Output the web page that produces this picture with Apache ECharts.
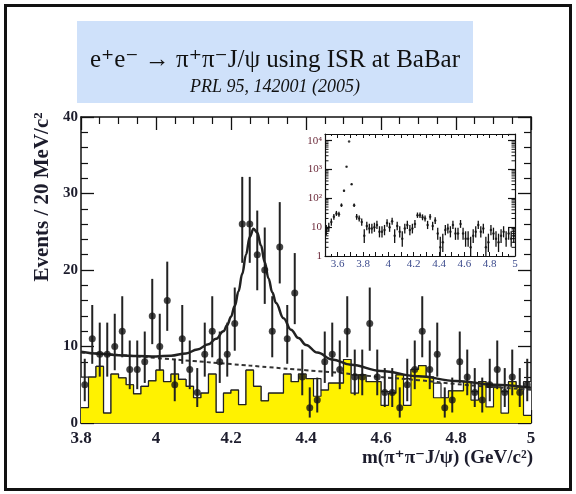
<!DOCTYPE html>
<html>
<head>
<meta charset="utf-8">
<script src="https://cdn.jsdelivr.net/npm/echarts@6/dist/echarts.min.js"></script>
<style>
  html, body { margin: 0; padding: 0; background: #ffffff; }
  #chart { width: 576px; height: 494px; }
</style>
</head>
<body>
<div id="chart"></div>
<script>
// Binning of the pi+pi-J/psi mass spectrum (GeV/c^2)
const BIN_START = 3.80;
const BIN_WIDTH = 0.02;

// Events per 20 MeV/c^2, 3.80 - 5.00 GeV/c^2
const counts = [
  5, 11, 9, 9, 10, 12, 7, 7, 8, 14,
  10, 16, 5, 11, 7, 4, 9, 12, 8, 9,
  13, 26, 26, 22, 20, 12, 23, 11, 17, 6,
  2, 3, 8, 9, 7, 12, 6, 6, 13, 6,
  4, 4, 2, 5, 7, 12, 7, 9, 2, 3,
  8, 6, 4, 3, 5, 7, 4, 6, 4, 5
];

// J/psi sideband histogram (shaded)
const sidebandHist = [
  2.0, 6.0, 7.4, 1.3, 6.4, 5.9, 5.0, 3.8, 4.8, 5.5,
  6.9, 5.4, 6.4, 5.7, 4.8, 3.3, 3.9, 6.4, 1.4, 3.9,
  4.3, 2.4, 6.9, 4.8, 2.9, 3.9, 3.9, 6.4, 5.4, 6.4,
  5.8, 3.5, 4.3, 5.2, 5.2, 8.3, 3.9, 6.3, 5.4, 5.4,
  2.3, 3.9, 6.3, 2.3, 7.0, 7.5, 6.0, 3.3, 3.3, 4.2,
  4.2, 5.4, 3.0, 5.4, 2.1, 4.7, 1.3, 5.4, 4.7, 1.0
];

// Open histogram drawn behind the shaded one
const openHist = [
  6.0, 6.0, 7.4, 1.3, 6.4, 5.9, 5.0, 3.8, 4.8, 5.5,
  6.9, 5.4, 6.4, 5.7, 4.8, 3.3, 3.9, 6.4, 1.4, 3.9,
  4.3, 2.4, 6.9, 4.8, 2.9, 3.9, 3.9, 6.4, 5.4, 6.4,
  5.8, 5.8, 4.3, 5.2, 5.2, 8.3, 6.3, 6.3, 5.4, 5.4,
  4.1, 3.9, 6.3, 5.8, 7.0, 7.5, 6.0, 5.2, 3.3, 4.2,
  4.2, 5.4, 4.1, 5.4, 4.7, 4.7, 4.1, 5.4, 4.7, 5.4
];

// Fit: signal + background (mass, events)
const fitMass = [3.80, 3.85, 3.90, 3.95, 4.00, 4.04, 4.08, 4.11, 4.14, 4.16,
  4.18, 4.19, 4.20, 4.21, 4.22, 4.23, 4.24, 4.25, 4.26, 4.27,
  4.28, 4.29, 4.30, 4.31, 4.32, 4.34, 4.36, 4.38, 4.40, 4.43,
  4.47, 4.52, 4.60, 4.70, 4.80, 4.90, 5.00];
const fitTotal = [9.3, 9.05, 8.85, 8.75, 8.7, 8.8, 9.1, 9.6, 10.3, 11.0,
  12.0, 12.8, 13.9, 15.3, 17.2, 19.5, 22.0, 24.3, 25.4, 24.9,
  23.2, 21.0, 18.9, 17.1, 15.7, 13.7, 12.2, 11.1, 10.2, 9.2,
  8.3, 7.6, 6.8, 6.1, 5.5, 5.0, 4.6];

// Background component of the fit
const bkgMass = [3.80, 3.90, 4.00, 4.10, 4.20, 4.30, 4.40, 4.50, 4.60, 4.70, 4.80, 4.90, 5.00];
const bkgValue = [9.2, 8.9, 8.5, 8.1, 7.7, 7.3, 6.9, 6.5, 6.0, 5.6, 5.1, 4.7, 4.35];

// Inset: wide-range spectrum, extra bins 3.50 - 3.80 GeV/c^2 (psi(2S) region)
const INSET_START = 3.50;
const insetLowCounts = [8, 10, 15, 23, 30, 28, 58, 182, 1250, 9300, 310, 58, 23, 20, 15];

// Tick labels
const insetYLabels = { 1: '1', 10: '10', 100: '10²', 1000: '10³', 10000: '10⁴' };

// ---- derived drawing data ----
function poissonLo(n) { return n * Math.pow(1 - 1 / (9 * n) - 1 / (3 * Math.sqrt(n)), 3); }
function poissonHi(n) { return n + Math.sqrt(n + 0.75) + 1; }
function stepData(vals, start) {
  const pts = [];
  vals.forEach((v, i) => {
    const lo = start + i * BIN_WIDTH;
    pts.push([lo, v], [lo + BIN_WIDTH, v]);
  });
  return pts;
}
const mainPoints = counts.map((n, i) => [BIN_START + (i + 0.5) * BIN_WIDTH, n]);
const mainErr = counts.map((n, i) => [BIN_START + (i + 0.5) * BIN_WIDTH, poissonLo(n), poissonHi(n)]);
const insetCounts = insetLowCounts.concat(counts);
const insetPoints = insetCounts.map((n, i) => [INSET_START + (i + 0.5) * BIN_WIDTH, n]);
const insetErr = insetCounts.map((n, i) => [INSET_START + (i + 0.5) * BIN_WIDTH, poissonLo(n), poissonHi(n)]);
const logMinor = [];
[1, 10, 100, 1000].forEach(d => { for (let m = 2; m <= 9; m++) logMinor.push([3.5, m * d]); });

function errRender(width, color) {
  return function (params, api) {
    const p1 = api.coord([api.value(0), api.value(1)]);
    const p2 = api.coord([api.value(0), api.value(2)]);
    return { type: 'line', shape: { x1: p1[0], y1: p1[1], x2: p2[0], y2: p2[1] },
      style: { stroke: color, lineWidth: width } };
  };
}

const SERIF = "'Liberation Serif', 'DejaVu Serif', serif";
const ink = '#1c1c2c';

const chart = echarts.init(document.getElementById('chart'), null, { renderer: 'canvas' });

const mainX = {
  type: 'value', gridIndex: 0, min: 3.8, max: 5.0, interval: 0.2,
  axisLine: { show: true, onZero: false, lineStyle: { color: '#111', width: 1.5 } },
  axisTick: { show: true, inside: true, length: 13, lineStyle: { color: '#111', width: 1.3 } },
  minorTick: { show: true, splitNumber: 4, length: 7, lineStyle: { color: '#111', width: 1.2 } },
  splitLine: { show: false }
};
const mainY = {
  type: 'value', gridIndex: 0, min: 0, max: 40, interval: 10,
  axisLine: { show: true, onZero: false, lineStyle: { color: '#111', width: 1.5 } },
  axisTick: { show: true, inside: true, length: 13, lineStyle: { color: '#111', width: 1.3 } },
  minorTick: { show: true, splitNumber: 5, length: 7, lineStyle: { color: '#111', width: 1.2 } },
  splitLine: { show: false }
};
const insetX = {
  type: 'value', gridIndex: 1, min: 3.5, max: 5.0, interval: 0.1,
  axisLine: { show: true, onZero: false, lineStyle: { color: '#111', width: 1.2 } },
  axisTick: { show: true, inside: true, length: 4, lineStyle: { color: '#111', width: 1 } },
  minorTick: { show: true, splitNumber: 2, length: 2, lineStyle: { color: '#111', width: 1 } },
  splitLine: { show: false }
};
const insetY = {
  type: 'log', logBase: 10, gridIndex: 1, min: 1, max: 17000,
  axisLine: { show: true, onZero: false, lineStyle: { color: '#111', width: 1.2 } },
  axisTick: { show: true, inside: true, length: 7, lineStyle: { color: '#111', width: 1.2 } },
  splitLine: { show: false }
};

chart.setOption({
  animation: false,
  backgroundColor: '#ffffff',
  grid: [
    { left: 81, top: 117, width: 450, height: 306 },
    { left: 325, top: 134, width: 190, height: 122, backgroundColor: '#ffffff', show: true, borderWidth: 0 }
  ],
  xAxis: [
    Object.assign({}, mainX, { position: 'bottom',
      axisLabel: { show: true, margin: 7, color: ink, fontFamily: SERIF, fontWeight: 'bold', fontSize: 17,
        formatter: v => String(Math.round(v * 100) / 100) } }),
    Object.assign({}, mainX, { position: 'top', axisLabel: { show: false } }),
    Object.assign({}, insetX, { position: 'bottom',
      axisLabel: { show: true, margin: 3, color: '#3b4a8c', fontFamily: SERIF, fontSize: 11,
        formatter: v => { const t = Math.round(v * 10); return t % 2 === 0 ? String(t / 10) : ''; } } }),
    Object.assign({}, insetX, { position: 'top', axisLabel: { show: false } })
  ],
  yAxis: [
    Object.assign({}, mainY, { position: 'left',
      axisLabel: { show: true, margin: 3, color: ink, fontFamily: SERIF, fontWeight: 'bold', fontSize: 15 } }),
    Object.assign({}, mainY, { position: 'right', axisLabel: { show: false } }),
    Object.assign({}, insetY, { position: 'left',
      axisLabel: { show: true, margin: 3, color: '#6b2a3a', fontFamily: SERIF, fontSize: 11, showMaxLabel: false,
        formatter: v => insetYLabels[Math.round(v)] || '' } }),
    Object.assign({}, insetY, { position: 'right', axisLabel: { show: false } })
  ],
  series: [
    { type: 'line', name: 'open', xAxisIndex: 0, yAxisIndex: 0, data: stepData(openHist, BIN_START),
      symbol: 'none', lineStyle: { color: '#222', width: 1.2 }, areaStyle: { color: '#ffffff', opacity: 1 }, z: 2 },
    { type: 'line', name: 'sideband', xAxisIndex: 0, yAxisIndex: 0, data: stepData(sidebandHist, BIN_START),
      symbol: 'none', lineStyle: { color: '#222', width: 1.2 }, areaStyle: { color: '#fff200', opacity: 1 }, z: 3 },
    { type: 'line', name: 'background', xAxisIndex: 0, yAxisIndex: 0,
      data: bkgMass.map((m, i) => [m, bkgValue[i]]), smooth: true, symbol: 'none',
      lineStyle: { color: '#333', width: 2, type: [4, 3] }, z: 4 },
    { type: 'line', name: 'fit', xAxisIndex: 0, yAxisIndex: 0,
      data: fitMass.map((m, i) => [m, fitTotal[i]]), smooth: 0.4, smoothMonotone: 'x', symbol: 'none',
      lineStyle: { color: '#222', width: 2.5 }, z: 5 },
    { type: 'custom', name: 'errors', xAxisIndex: 0, yAxisIndex: 0, data: mainErr,
      renderItem: errRender(2, '#222'), encode: { x: 0, y: [1, 2] }, clip: true, z: 6 },
    { type: 'scatter', name: 'data', xAxisIndex: 0, yAxisIndex: 0, data: mainPoints,
      symbol: 'circle', symbolSize: 7, itemStyle: { color: '#151515' }, z: 7 },
    { type: 'custom', name: 'inset errors', xAxisIndex: 2, yAxisIndex: 2, data: insetErr,
      renderItem: errRender(1.3, '#111'), encode: { x: 0, y: [1, 2] }, clip: true, z: 8 },
    { type: 'scatter', name: 'inset data', xAxisIndex: 2, yAxisIndex: 2, data: insetPoints,
      symbol: 'circle', symbolSize: 2.5, itemStyle: { color: '#111' }, z: 9 },
    { type: 'custom', name: 'log minor ticks', xAxisIndex: 2, yAxisIndex: 2, data: logMinor,
      encode: { x: 0, y: 1 }, z: 9, silent: true,
      renderItem: function (params, api) {
        const pl = api.coord([3.5, api.value(1)]);
        const pr = api.coord([5.0, api.value(1)]);
        return { type: 'group', children: [
          { type: 'line', shape: { x1: pl[0], y1: pl[1], x2: pl[0] + 3.5, y2: pl[1] }, style: { stroke: '#111', lineWidth: 1 } },
          { type: 'line', shape: { x1: pr[0], y1: pr[1], x2: pr[0] - 3.5, y2: pr[1] }, style: { stroke: '#111', lineWidth: 1 } }
        ] };
      } }
  ],
  graphic: [
    { type: 'rect', z: 0, shape: { x: 5.5, y: 5.5, width: 565, height: 484 },
      style: { fill: 'none', stroke: '#111', lineWidth: 3 } },
    { type: 'rect', z: 0, shape: { x: 77, y: 21, width: 396, height: 82 },
      style: { fill: '#cfe1fa', stroke: 'none' } },
    { type: 'text', z: 10, x: 275, y: 60,
      style: { text: 'e⁺e⁻ → π⁺π⁻J/ψ using ISR at BaBar', fill: '#111', font: '25px ' + SERIF,
        textAlign: 'center', textVerticalAlign: 'middle' } },
    { type: 'text', z: 10, x: 275, y: 87,
      style: { text: 'PRL 95, 142001 (2005)', fill: '#111', font: 'italic 18px ' + SERIF,
        textAlign: 'center', textVerticalAlign: 'middle' } },
    { type: 'text', z: 10, x: 43, y: 197, rotation: Math.PI / 2,
      style: { text: 'Events / 20 MeV/c²', fill: ink, font: 'bold 21px ' + SERIF,
        textAlign: 'center', textVerticalAlign: 'middle' } },
    { type: 'text', z: 10, x: 533, y: 458,
      style: { text: 'm(π⁺π⁻J/ψ) (GeV/c²)', fill: ink, font: 'bold 19px ' + SERIF,
        textAlign: 'right', textVerticalAlign: 'middle' } }
  ]
});
</script>
</body>
</html>
